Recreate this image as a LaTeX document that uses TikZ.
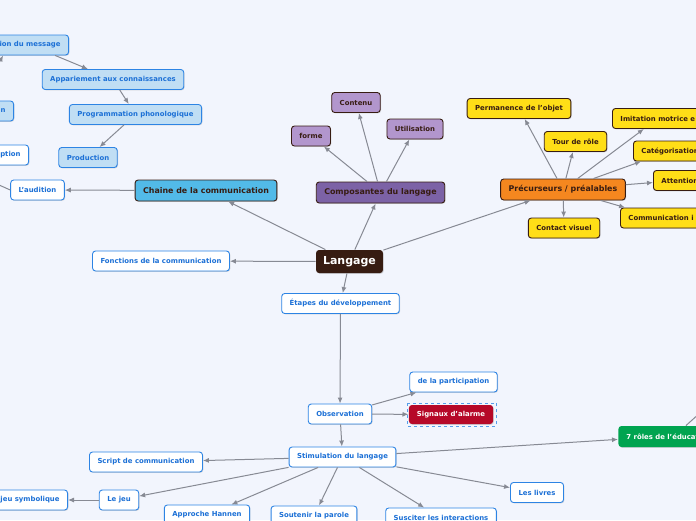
\documentclass[tikz,border=0pt]{standalone}
\usepackage{fontspec}
\setmainfont{DejaVu Sans}
\usetikzlibrary{arrows.meta,shadows}
\definecolor{fond}{RGB}{242,245,253}
\definecolor{bleu}{RGB}{28,112,214}
\definecolor{bleubord}{RGB}{45,132,228}
\definecolor{bleuclair}{RGB}{192,222,244}
\definecolor{brun}{RGB}{55,28,18}
\definecolor{ciel}{RGB}{82,186,232}
\definecolor{cviolet}{RGB}{124,98,166}
\definecolor{lilas}{RGB}{178,150,205}
\definecolor{corange}{RGB}{245,135,31}
\definecolor{jaune}{RGB}{255,222,23}
\definecolor{rouge}{RGB}{182,8,40}
\definecolor{vert}{RGB}{0,164,80}
\definecolor{gris}{RGB}{135,138,148}
\tikzset{
  box/.style={rounded corners=3pt, inner xsep=8pt, inner ysep=0pt, minimum height=20pt,
    line width=0.9pt, font=\fontsize{6.9}{8}\selectfont\bfseries,
    drop shadow={shadow xshift=0.8pt, shadow yshift=-0.8pt, opacity=0.3}},
  feuille/.style={box, draw=bleubord, fill=white, text=bleu},
  feuillebleue/.style={feuille, fill=bleuclair},
  branche/.style={box, draw=brun, text=brun, minimum height=21pt,
    font=\fontsize{7.9}{9}\selectfont\bfseries},
  precur/.style={box, draw=brun, fill=jaune, text=brun},
  compo/.style={box, draw=brun, fill=lilas, text=brun},
  lien/.style={draw=gris, line width=1pt, -{Latex[length=6pt,width=5pt]}},
}
\begin{document}
\begin{tikzpicture}[x=1pt,y=-1pt]
\useasboundingbox (0,0) rectangle (696,520);
\clip (0,0) rectangle (696,520);
\fill[fond] (0,0) rectangle (696,520);
% centre
\node[box, fill=brun, text=white, minimum height=23pt, inner xsep=7pt,
  font=\fontsize{11}{13}\selectfont\bfseries] (lang) at (349.5,261.5) {Langage};
% branches principales
\node[branche, fill=ciel] (chaine) at (206,190.5) {Chaine de la communication};
\node[branche, fill=cviolet] (compos) at (380.5,192.5) {Composantes du langage};
\node[branche, fill=corange] (precurs) at (563,189.5) {Précurseurs / préalables};
\node[feuille] (fonct) at (161,261) {Fonctions de la communication};
\node[feuille] (etapes) at (340.5,303.5) {Étapes du développement};
% chaine de la communication
\node[feuille] (audition) at (37.5,190) {L'audition};
\node[feuille, anchor=east] (percep) at (29,155) {ption};
\node[feuillebleue, anchor=east] (recep) at (14,111) {n};
\node[feuillebleue, anchor=east] (message) at (69,45) {ion du message};
\node[feuillebleue] (appar) at (113,79.5) {Appariement aux connaissances};
\node[feuillebleue] (progr) at (135.5,114.5) {Programmation phonologique};
\node[feuillebleue] (prod) at (88,157.5) {Production};
\coordinate (horsA) at (-12,180);
\coordinate (horsB) at (-8,76);
% composantes
\node[compo] (forme) at (311,136) {forme};
\node[compo] (contenu) at (356,102.5) {Contenu};
\node[compo] (util) at (415,129) {Utilisation};
% precurseurs
\node[precur] (perman) at (519,108.5) {Permanence de l'objet};
\node[precur] (tour) at (575.5,141.5) {Tour de rôle};
\node[precur, anchor=west] (imit) at (612,118.5) {Imitation motrice e};
\node[precur, anchor=west] (categ) at (633,151) {Catégorisation};
\node[precur, anchor=west] (attent) at (653,180.5) {Attention};
\node[precur, anchor=west] (commun) at (620,218) {Communication i};
\node[precur] (contact) at (564,228) {Contact visuel};
% etapes
\node[feuille] (obs) at (340,414) {Observation};
\node[feuille] (partic) at (453.5,382) {de la participation};
\node[box, fill=rouge, text=white, minimum height=19pt] (signal) at (451,414.5) {Signaux d'alarme};
\draw[bleubord!80, dashed, thin] ([xshift=-1.5pt,yshift=1.5pt]signal.north west)
  rectangle ([xshift=3pt,yshift=-1.5pt]signal.south east);
\node[feuille] (stim) at (342.5,457) {Stimulation du langage};
\node[box, fill=vert, text=white, minimum height=21pt, anchor=west] (roles) at (618,436.5) {7 rôles de l'éducat};
\coordinate (horsC) at (712,402);
\node[feuille] (script) at (146,462) {Script de communication};
\node[feuille] (jeu) at (119,500) {Le jeu};
\node[feuille, anchor=east] (symb) at (68,500) {jeu symbolique};
\node[feuille] (hannen) at (207,515) {Approche Hannen};
\node[feuille] (soutenir) at (314,516) {Soutenir la parole};
\node[feuille] (susciter) at (441,518) {Susciter les interactions};
\node[feuille] (livres) at (537,492.5) {Les livres};
% liens
\draw[lien] (lang) -- (chaine);
\draw[lien] (lang) -- (compos);
\draw[lien] (lang) -- (precurs);
\draw[lien] (lang) -- (fonct);
\draw[lien] (lang) -- (etapes);
\draw[lien] (chaine) -- (audition);
\draw[lien] (audition.west) -- (horsA);
\draw[lien] (horsB) -- ([xshift=12pt]message.south west);
\draw[lien] (message) -- (appar);
\draw[lien] (appar) -- (progr);
\draw[lien] (progr) -- (prod);
\foreach \n in {forme,contenu,util} \draw[lien] (compos) -- (\n);
\foreach \n in {perman,tour,imit,categ,attent,commun,contact} \draw[lien] (precurs) -- (\n);
\draw[lien] (etapes) -- (obs);
\draw[lien] (obs) -- (partic);
\draw[lien] (obs) -- (signal);
\draw[lien] (obs) -- (stim);
\draw[lien] (stim) -- (roles);
\draw[lien] ([xshift=68pt]roles.north west) -- (horsC);
\foreach \n in {script,jeu,hannen,soutenir,susciter,livres} \draw[lien] (stim) -- (\n);
\draw[lien] (jeu) -- (symb);
\end{tikzpicture}
\end{document}
